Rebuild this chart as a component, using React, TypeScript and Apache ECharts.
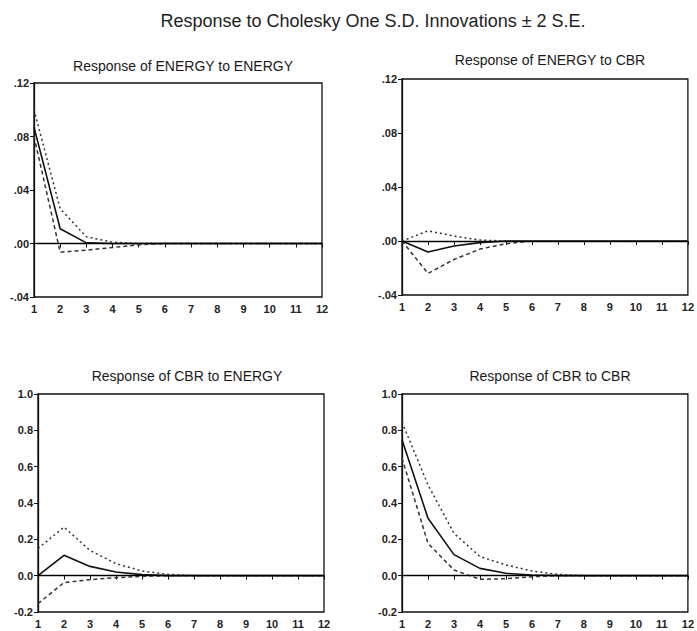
import React, { useEffect, useRef } from "react";
import * as echarts from "echarts";

const periods = [1, 2, 3, 4, 5, 6, 7, 8, 9, 10, 11, 12];

// Response of ENERGY to ENERGY
const eeMid = [0.087, 0.011, 0.0005, 0, 0, 0, 0, 0, 0, 0, 0, 0];
const eeUp = [0.1, 0.026, 0.005, 0.001, 0, 0, 0, 0, 0, 0, 0, 0];
const eeLo = [0.08, -0.0065, -0.005, -0.003, -0.001, 0, 0, 0, 0, 0, 0, 0];

// Response of ENERGY to CBR
const ecMid = [0, -0.0082, -0.0037, -0.0012, 0, 0, 0, 0, 0, 0, 0, 0];
const ecUp = [0, 0.0075, 0.0037, 0.0007, 0, 0, 0, 0, 0, 0, 0, 0];
const ecLo = [0, -0.024, -0.0137, -0.006, -0.002, 0, 0, 0, 0, 0, 0, 0];

// Response of CBR to ENERGY
const ceMid = [0, 0.112, 0.051, 0.02, 0.0055, 0, 0, 0, 0, 0, 0, 0];
const ceUp = [0.15, 0.267, 0.139, 0.066, 0.026, 0.007, 0, 0, 0, 0, 0, 0];
const ceLo = [-0.154, -0.038, -0.022, -0.011, -0.004, 0, 0, 0, 0, 0, 0, 0];

// Response of CBR to CBR
const ccMid = [0.748, 0.316, 0.116, 0.04, 0.013, 0.004, 0, 0, 0, 0, 0, 0];
const ccUp = [0.844, 0.5, 0.233, 0.105, 0.059, 0.026, 0.007, 0, 0, 0, 0, 0];
const ccLo = [0.647, 0.178, 0.031, -0.02, -0.017, -0.006, 0, 0, 0, 0, 0, 0];

const mainTitle = "Response to Cholesky One S.D. Innovations \u00b1 2 S.E.";
const panelTitles = [
  "Response of ENERGY to ENERGY",
  "Response of ENERGY to CBR",
  "Response of CBR to ENERGY",
  "Response of CBR to CBR",
];

const panels = [
  { mid: eeMid, up: eeUp, lo: eeLo, small: true },
  { mid: ecMid, up: ecUp, lo: ecLo, small: true },
  { mid: ceMid, up: ceUp, lo: ceLo, small: false },
  { mid: ccMid, up: ccUp, lo: ccLo, small: false },
];

const grids = [
  { left: 34, top: 83, width: 288, height: 214 },
  { left: 402, top: 79, width: 287, height: 216 },
  { left: 38, top: 394, width: 286, height: 218 },
  { left: 402, top: 394, width: 288, height: 218 },
];

const titlePos = [
  { x: 178, y: 63 },
  { x: 545, y: 57 },
  { x: 182, y: 373 },
  { x: 545, y: 373 },
];

const FONT = "'Liberation Sans', Arial, sans-serif";

function fmtSmall(v: number) {
  const s = v.toFixed(2);
  return s.replace(/^(-?)0\./, "$1.");
}
function fmtBig(v: number) {
  return v.toFixed(1);
}

export default function App() {
  const ref = useRef<HTMLDivElement>(null);
  useEffect(() => {
    document.body.style.margin = "0";
    const chart = echarts.init(ref.current!, null, { renderer: "svg" });
    const zip = (ys: number[]) => periods.map((p, i) => [p, ys[i]]);
    const series: any[] = [];
    panels.forEach((p, i) => {
      series.push({
        type: "line",
        xAxisIndex: i,
        yAxisIndex: i,
        data: zip(p.mid),
        showSymbol: false,
        lineStyle: { color: "#111", width: 1.6, type: "solid" },
        markLine: {
          silent: true,
          symbol: "none",
          label: { show: false },
          lineStyle: { color: "#000", width: 1, type: "solid" },
          data: [{ yAxis: 0 }],
        },
        z: 3,
      });
      series.push({
        type: "line",
        xAxisIndex: i,
        yAxisIndex: i,
        data: zip(p.up),
        showSymbol: false,
        lineStyle: { color: "#333", width: 1.5, type: [2, 3] },
      });
      series.push({
        type: "line",
        xAxisIndex: i,
        yAxisIndex: i,
        data: zip(p.lo),
        showSymbol: false,
        lineStyle: { color: "#333", width: 1.5, type: [4, 3] },
      });
    });

    chart.setOption({
      animation: false,
      backgroundColor: "#fff",
      title: [
        {
          text: mainTitle,
          left: 368,
          top: 7,
          textAlign: "center",
          textStyle: { fontFamily: FONT, fontSize: 18, fontWeight: "normal", color: "#222" },
        },
        ...panelTitles.map((t, i) => ({
          text: t,
          left: titlePos[i].x,
          top: titlePos[i].y - 9,
          textAlign: "center",
          textStyle: { fontFamily: FONT, fontSize: 14, fontWeight: "normal", color: "#1a1a1a" },
        })),
      ],
      grid: grids.map((g) => ({
        ...g,
        show: true,
        borderColor: "#111",
        borderWidth: 1.3,
        backgroundColor: "transparent",
        containLabel: false,
      })),
      xAxis: grids.map((_, i) => ({
        type: "value",
        gridIndex: i,
        min: 1,
        max: 12,
        interval: 1,
        axisLine: { show: true, lineStyle: { color: "#111", width: 1.3 } },
        axisTick: { show: true, length: 4, lineStyle: { color: "#111" } },
        axisLabel: { fontFamily: FONT, fontSize: 11, fontWeight: "bold", color: "#222", margin: 6 },
        splitLine: { show: false },
      })),
      yAxis: panels.map((p, i) => ({
        type: "value",
        gridIndex: i,
        min: p.small ? -0.04 : -0.2,
        max: p.small ? 0.12 : 1.0,
        interval: p.small ? 0.04 : 0.2,
        axisLine: { show: true, lineStyle: { color: "#111", width: 1.3 } },
        axisTick: { show: true, length: 4, lineStyle: { color: "#111" } },
        axisLabel: {
          fontFamily: FONT,
          fontSize: 11,
          fontWeight: "bold",
          color: "#222",
          margin: 5,
          verticalAlign: "middle",
          padding: [0, 0, 4, 0],
          formatter: p.small ? fmtSmall : fmtBig,
        },
        splitLine: { show: false },
      })),
      series,
    });
    return () => chart.dispose();
  }, []);
  return <div ref={ref} style={{ width: 697, height: 631 }} />;
}
